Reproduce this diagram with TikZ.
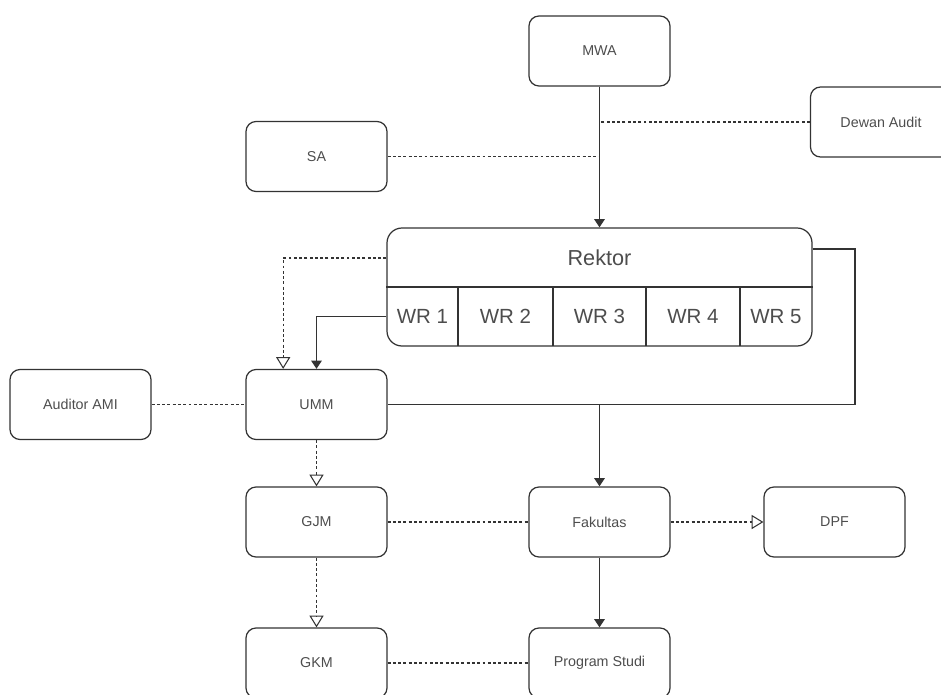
\documentclass[tikz,border=0pt]{standalone}
\usepackage{fontspec}
\setmainfont{Liberation Sans}
\usetikzlibrary{arrows.meta}
\definecolor{edgegray}{HTML}{333333}
\definecolor{textgray}{HTML}{4D4D4D}
\tikzset{
  unit/.style      = {shape=rectangle, rounded corners=0.3cm,
                      draw=edgegray, line width=1.05pt, align=center,
                      minimum width=4.23cm, minimum height=2.1cm,
                      text=textgray, font=\fontsize{12.2}{14}\selectfont},
  rektorbox/.style = {unit, minimum width=12.75cm, minimum height=3.54cm,
                      rounded corners=0.45cm},
  wr/.style        = {text=textgray, inner sep=0pt,
                      font=\fontsize{17.5}{20}\selectfont},
  tegas/.style     = {draw=edgegray, line width=1.05pt},
  putus/.style     = {draw=edgegray, line width=0.9pt,
                      dash pattern=on 2.5pt off 2pt},
  panah/.style     = {tegas, -{Triangle[length=7pt,width=9pt]}},
  panahputus/.style= {putus, -{Triangle[open,length=10pt,width=12pt]}}
}

\begin{document}
\begin{tikzpicture}[x=0.03cm, y=-0.03cm]
  \useasboundingbox (0,0) rectangle (941,695);

  % atas
  \node [unit] (mwa)   at (599.5,51)    {MWA};
  \node [unit] (sa)    at (316.5,156.5) {SA};
  \node [unit] (dewan) at (881,122)     {Dewan Audit};

  % rektor dan wakil rektor
  \node [rektorbox] (rektor) at (599.5,287) {};
  \node [wr, font=\fontsize{18.5}{21}\selectfont] (rektortitle) at (599.5,258) {Rektor};
  \draw [tegas] (rektor.west) -- (rektor.east);
  \draw [tegas] (458,287) -- (458,346);
  \draw [tegas] (553,287) -- (553,346);
  \draw [tegas] (646,287) -- (646,346);
  \draw [tegas] (740,287) -- (740,346);
  \node [wr] (wr1) at (422.5,316.5) {WR 1};
  \node [wr] (wr2) at (505.5,316.5) {WR 2};
  \node [wr] (wr3) at (599.5,316.5) {WR 3};
  \node [wr] (wr4) at (693,316.5)   {WR 4};
  \node [wr] (wr5) at (776,316.5)   {WR 5};

  % bawah
  \node [unit] (auditor)  at (80.5,404.5)  {Auditor AMI};
  \node [unit] (umm)      at (316.5,404.5) {UMM};
  \node [unit] (gjm)      at (316.5,522)   {GJM};
  \node [unit] (fakultas) at (599.5,522)   {Fakultas};
  \node [unit] (dpf)      at (834.5,522)   {DPF};
  \node [unit] (gkm)      at (316.5,663)   {GKM};
  \node [unit] (prodi)    at (599.5,663)   {Program Studi};

  % garis
  \draw [panah] (mwa.south) -- (rektor.north);
  \draw [putus] (sa.east) -- (sa.east -| mwa.south);
  \draw [putus] (dewan.west) -- (dewan.west -| mwa.south);

  \draw [panahputus] (rektor.west |- rektortitle) -| ([xshift=-1cm]umm.north);
  \draw [panah] (rektor.west |- wr1) -| (umm.north);
  \coordinate (belok) at (855,404.5);
  \draw [tegas] ([yshift=1.14cm]rektor.east) -| (belok) -- (umm.east);
  \draw [panah] (umm.east -| fakultas.north) -- (fakultas.north);

  \draw [putus] (auditor.east) -- (umm.west);
  \draw [panahputus] (umm.south) -- (gjm.north);
  \draw [panahputus] (gjm.south) -- (gkm.north);
  \draw [putus] (gjm.east) -- (fakultas.west);
  \draw [panahputus] (fakultas.east) -- (dpf.west);
  \draw [panah] (fakultas.south) -- (prodi.north);
  \draw [putus] (gkm.east) -- (prodi.west);
\end{tikzpicture}
\end{document}
